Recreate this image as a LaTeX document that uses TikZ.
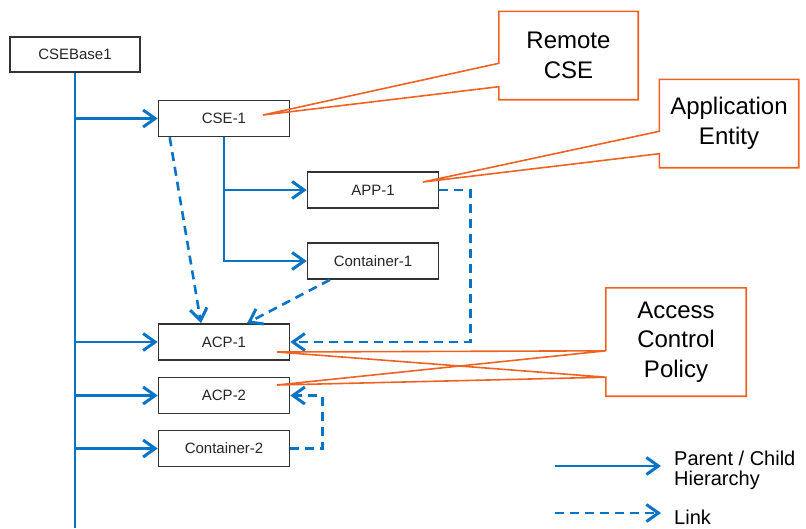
\documentclass[tikz,border=0pt]{standalone}
\usepackage{fontspec}
\setmainfont{Liberation Sans}
\usetikzlibrary{arrows.meta,calc}
\definecolor{treeblue}{RGB}{8,116,200}
\definecolor{noteorange}{RGB}{240,98,34}
\definecolor{boxgray}{RGB}{50,50,50}

\tikzset{
  resource/.style = {
    draw           = boxgray,
    line width     = 1.6pt,
    fill           = white,
    minimum width  = 131pt,
    minimum height = 36pt,
    inner sep      = 0pt,
    text           = black!85,
    font           = \fontsize{15}{17}\selectfont
  },
  notebox/.style = {
    minimum width  = 139pt,
    minimum height = 88pt,
    inner sep      = 0pt,
    align          = center,
    font           = \fontsize{24}{29.5}\selectfont
  },
  noteline/.style = {
    draw       = noteorange,
    line width = 1.6pt,
    line join  = miter
  },
  treeline/.style = {
    draw       = treeblue,
    line width = 2.6pt
  },
  parentchild/.style = {
    treeline,
    -{Straight Barb[length=12pt,width=17pt,line width=3pt]}
  },
  linkline/.style = {
    treeline,
    dash pattern = on 9pt off 6pt,
    -{Straight Barb[length=12pt,width=17pt,line width=3pt]}
  }
}

\begin{document}
\begin{tikzpicture}[x=1pt,y=-1pt]
  \useasboundingbox (0,0) rectangle (806,528);

  \node[resource, minimum width=130pt, minimum height=35pt] (cseBase) at (75,54.5) {CSEBase1};
  \node[resource] (cseOne)       at (224,118.5) {CSE-1};
  \node[resource] (appOne)       at (373,190)   {APP-1};
  \node[resource] (containerOne) at (373,261)   {Container-1};
  \node[resource] (acpOne)       at (224,342)   {ACP-1};
  \node[resource] (acpTwo)       at (224,395.5) {ACP-2};
  \node[resource] (containerTwo) at (224,448.5) {Container-2};

  \coordinate (trunkEnd) at (74,528);
  \draw[treeline] (cseBase.south) -- (cseBase.south |- trunkEnd);
  \draw[parentchild] (cseBase.south |- cseOne.west)       -- (cseOne.west);
  \draw[parentchild] (cseBase.south |- acpOne.west)       -- (acpOne.west);
  \draw[parentchild] (cseBase.south |- acpTwo.west)       -- (acpTwo.west);
  \draw[parentchild] (cseBase.south |- containerTwo.west) -- (containerTwo.west);
  \draw[parentchild] (cseOne.south) |- (containerOne.west);
  \draw[parentchild] (cseOne.south |- appOne.west) -- (appOne.west);

  \draw[linkline] ([xshift=12pt]cseOne.south west) -- ([xshift=-23pt]acpOne.north);
  \draw[linkline] ([xshift=-43pt]containerOne.south) -- ([xshift=23pt]acpOne.north);
  \draw[linkline] (appOne.east) -- ++(31,0) |- (acpOne.east);
  \draw[linkline] (containerTwo.east) -- ++(32,0) |- (acpTwo.east);

  \node[notebox] (remoteCse)  at (568.5,55.5) {Remote\\CSE};
  \node[notebox] (appEntity)  at (729,123.5)  {Application\\Entity};
  \node[notebox, minimum width=140pt, minimum height=108pt] (accessPolicy) at (676,342) {Access\\Control\\Policy};

  \coordinate (cseTip)    at (263,115);
  \coordinate (appTip)    at (423,182);
  \coordinate (acpOneTip) at (277,352);
  \coordinate (acpTwoTip) at (277,385);

  \draw[noteline] ([yshift=-52pt]remoteCse.north west) -- (remoteCse.north west) -- (remoteCse.north east)
    -- (remoteCse.south east) -- (remoteCse.south west) -- ([yshift=13pt]remoteCse.south west) -- (cseTip) -- cycle;
  \draw[noteline] ([yshift=-52pt]appEntity.north west) -- (appEntity.north west) -- (appEntity.north east)
    -- (appEntity.south east) -- (appEntity.south west) -- ([yshift=14pt]appEntity.south west) -- (appTip) -- cycle;
  \draw[noteline] ([yshift=-63pt]accessPolicy.north west) -- (accessPolicy.north west) -- (accessPolicy.north east)
    -- (accessPolicy.south east) -- (accessPolicy.south west) -- ([yshift=19pt]accessPolicy.south west)
    -- (acpOneTip) -- ([yshift=-63pt]accessPolicy.north west) -- (acpTwoTip) -- ([yshift=19pt]accessPolicy.south west);

  \coordinate (solidStart) at (555,466);
  \coordinate (solidEnd)   at (661,466);
  \coordinate (dashStart)  at (555,513);
  \coordinate (dashEnd)    at (661,513);
  \draw[parentchild] (solidStart) -- (solidEnd);
  \draw[linkline]    (dashStart)  -- (dashEnd);
  \node[anchor=west, align=left, inner sep=0pt, font=\fontsize{20}{20}\selectfont] (hierarchyLabel) at (674,470) {Parent / Child\\Hierarchy};
  \node[anchor=west, inner sep=0pt, font=\fontsize{20}{20}\selectfont] (linkLabel) at (674,517) {Link};
\end{tikzpicture}
\end{document}
